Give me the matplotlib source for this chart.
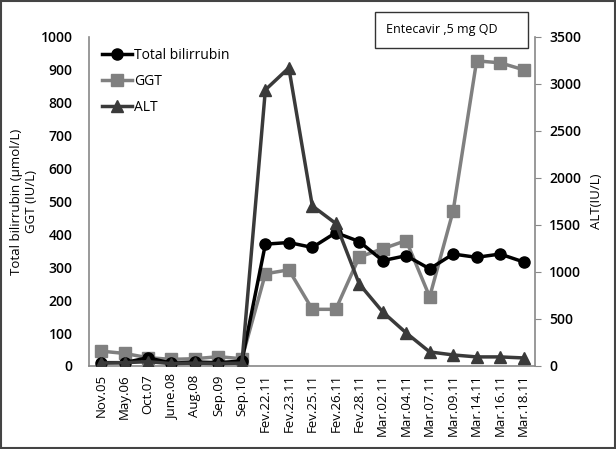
import numpy as np
import matplotlib.pyplot as plt
from matplotlib.patches import Rectangle

dates = ["Nov.05", "May.06", "Oct.07", "June.08", "Aug.08", "Sep.09", "Sep.10",
         "Fev.22.11", "Fev.23.11", "Fev.25.11", "Fev.26.11", "Fev.28.11",
         "Mar.02.11", "Mar.04.11", "Mar.07.11", "Mar.09.11", "Mar.14.11",
         "Mar.16.11", "Mar.18.11"]
bilirubin = [10, 10, 25, 8, 12, 10, 15, 370, 375, 360, 405, 378,
             320, 335, 295, 340, 330, 340, 316]
ggt = [45, 38, 25, 20, 22, 28, 22, 280, 292, 172, 172, 331,
       356, 381, 210, 471, 927, 921, 900]
alt = [30, 35, 45, 25, 30, 25, 30, 2936, 3170, 1702, 1515, 872,
       574, 351, 149, 117, 96, 96, 85]

plt.rcParams['font.family'] = ['Open Sans', 'DejaVu Sans']

fig = plt.figure(figsize=(6.16, 4.49), dpi=100)
ax = fig.add_axes([0.145, 0.185, 0.724, 0.733])
ax2 = ax.twinx()

x = np.arange(len(dates))
ax.plot(x, bilirubin, color="black", lw=2.5, marker="o", ms=8, label="Total bilirrubin", zorder=4)
ax.plot(x, ggt, color="#808080", lw=2.5, marker="s", ms=8, label="GGT", zorder=3)
ax2.plot(x, alt, color="#3a3a3a", lw=2.5, marker="^", ms=8, label="ALT")

ax.set_ylim(0, 1000)
ax.set_yticks(np.arange(0, 1001, 100))
ax2.set_ylim(0, 3500)
ax2.set_yticks(np.arange(0, 3501, 500))
ax.set_xlim(-0.5, len(dates) - 0.5)
ax.set_xticks(x)
ax.set_xticklabels(dates, rotation=90, fontsize=9.5)

for a in (ax, ax2):
    a.spines["top"].set_visible(False)
    for s in a.spines.values():
        s.set_color("#888888")
        s.set_linewidth(1.2)
ax.spines["right"].set_visible(False)
ax2.spines["left"].set_visible(False)
ax2.spines["bottom"].set_visible(False)
ax.tick_params(axis="y", length=0, labelsize=10, pad=12)
ax.tick_params(axis="x", length=0, pad=6)
ax2.tick_params(axis="y", length=4, color="#888888", labelsize=10, pad=6)
for lab in ax.get_yticklabels() + ax2.get_yticklabels():
    lab.set_fontweight("semibold")

ax.set_ylabel("Total bilirrubin (µmol/L)\nGGT (IU/L)", fontsize=9.5, labelpad=2)
ax2.set_ylabel("ALT(IU/L)", fontsize=9.5, labelpad=6)

h1, l1 = ax.get_legend_handles_labels()
h2, l2 = ax2.get_legend_handles_labels()
ax.legend(h1 + h2, l1 + l2, loc="upper left", bbox_to_anchor=(0.0, 1.005),
          frameon=False, fontsize=10, handlelength=2.2, handletextpad=0.1,
          labelspacing=0.8)

# annotation box
fig.patches.append(Rectangle((375 / 616, 1 - 48 / 449), 153 / 616, 36 / 449,
                             transform=fig.transFigure, fc="white", ec="#333333", lw=1))
fig.text(386 / 616, 1 - 29 / 449, "Entecavir ,5 mg QD", fontsize=9, ha="left", va="center")

fig.patches.append(Rectangle((0.002, 0.002), 0.996, 0.996, transform=fig.transFigure,
                             fill=False, ec="#444444", lw=1.5))

fig.savefig("out.png", dpi=100)
